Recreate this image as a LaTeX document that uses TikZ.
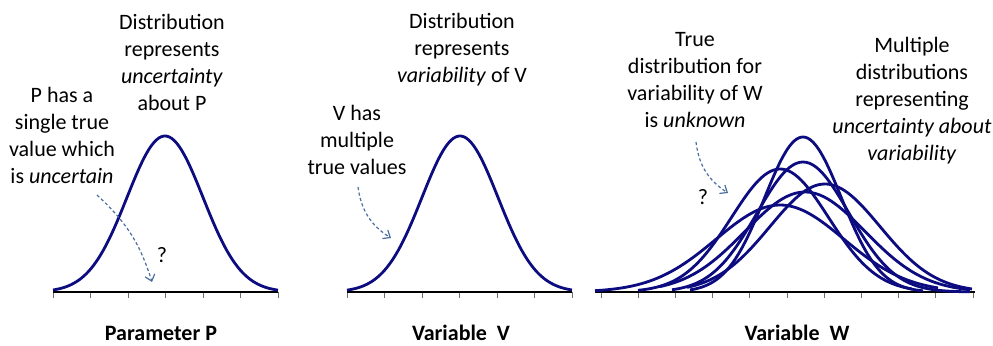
\documentclass[tikz,border=0pt]{standalone}
\usepackage{fontspec}
\setmainfont{Carlito}
\usetikzlibrary{arrows.meta}
\definecolor{distnavy}{RGB}{12,12,128}
\definecolor{tickgray}{RGB}{110,110,110}
\definecolor{noteblue}{RGB}{75,110,160}

\begin{document}
\begin{tikzpicture}[
    x=0.5pt, y=-0.5pt,
    font=\fontsize{11}{13.5}\selectfont,
    txt/.style={align=center, inner sep=0pt},
    ttl/.style={font=\fontsize{11}{13.5}\selectfont\bfseries, inner sep=0pt},
    dist/.style={draw=distnavy, line width=1.4pt, line join=round},
    axisline/.style={draw=black, line width=1.3pt},
    tickmark/.style={draw=tickgray, line width=0.5pt},
    note/.style={draw=noteblue, line width=0.6pt, dash pattern=on 1.6pt off 1.2pt,
      -{Straight Barb[length=3pt,width=5pt]}}
  ]
    \useasboundingbox (0,0) rectangle (993,345);

    % --- Parameter P ---
    \foreach \t in {0,...,6} \draw[tickmark] ({53+37.5*\t},292) -- ++(0,6);
    \draw[axisline] (53,292) -- (278,292);
    \draw[dist] plot[domain=53:278, samples=90, smooth] (\x, {292-156*exp(-0.5*((\x-165)/38)*((\x-165)/38))});

    \node[txt] (topP)  at (172,62)  {Distribution\\represents\\\textit{uncertainty}\\about P};
    \node[txt] (noteP) at (62,135)  {P has a\\single true\\value which\\is \textit{uncertain}};
    \node[txt] (qP)    at (162,255) {?};
    \node[ttl] (nameP) at (161,333) {Parameter P};
    \coordinate (noteP-s) at (97,195);
    \coordinate (noteP-e) at (152,282);
    \draw[note] (noteP-s) to[bend left=15] (noteP-e);

    % --- Variable V ---
    \foreach \t in {0,...,6} \draw[tickmark] ({347+37.5*\t},292) -- ++(0,6);
    \draw[axisline] (347,292) -- (572,292);
    \draw[dist] plot[domain=347:572, samples=90, smooth] (\x, {292-156*exp(-0.5*((\x-460)/38)*((\x-460)/38))});

    \node[txt] (topV)  at (462,49.5) {Distribution\\represents\\\textit{variability} of V};
    \node[txt] (noteV) at (357,140)  {V has\\multiple\\true values};
    \node[ttl] (nameV) at (461,333)  {Variable\ \ V};
    \coordinate (noteV-s) at (358,187);
    \coordinate (noteV-e) at (391,238);
    \draw[note] (noteV-s) to[bend right=25] (noteV-e);

    % --- Variable W ---
    \foreach \t in {0,...,10} \draw[tickmark] ({601+37.2*\t},292) -- ++(0,6);
    \draw[axisline] (595,292) -- (975,292);
    \foreach \m/\s/\h/\a/\b in {780/64/87/595/938, 780/48.5/123/638/912, 803/38.5/155/690/923,
                                803/46/130/672/970, 825/55/108/687/972, 805/60/100/660/970}
      \draw[dist] plot[domain=\a:\b, samples=90, smooth] (\x, {292-\h*exp(-0.5*((\x-\m)/\s)*((\x-\m)/\s))});

    \node[txt] (noteW) at (695,80)  {True\\distribution for\\variability of W\\is \textit{unknown}};
    \node[txt] (topW)  at (912,101) {Multiple\\distributions\\representing\\\textit{uncertainty about}\\\textit{variability}};
    \node[txt] (qW)    at (703,197) {?};
    \node[ttl] (nameW) at (797,333) {Variable\ \ W};
    \coordinate (noteW-s) at (696,142);
    \coordinate (noteW-e) at (728,193);
    \draw[note] (noteW-s) to[bend right=25] (noteW-e);
\end{tikzpicture}
\end{document}
